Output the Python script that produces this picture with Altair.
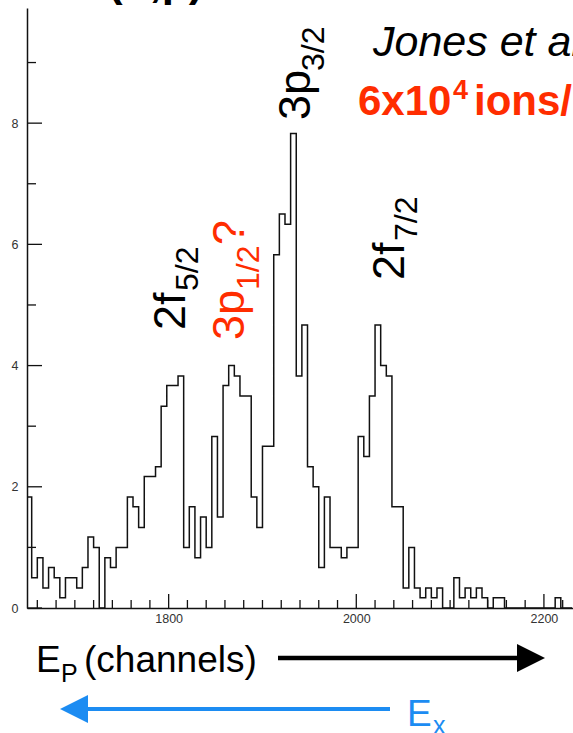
import altair as alt
import pandas as pd

# Histogram: counts per channel, 6-channel bins starting at channel 1648
BIN_START = 1648
BIN_WIDTH = 6
heights = [
    1.83, 0.50, 0.83, 0.33, 0.67, 0.50, 0.17, 0.50, 0.50, 0.33,
    0.67, 1.17, 1.00, 0.00, 0.83, 0.67, 1.00, 1.00, 1.83, 1.67,
    1.33, 2.17, 2.17, 2.33, 3.33, 3.67, 3.67, 3.83, 1.00, 1.67,
    0.83, 1.50, 1.00, 2.83, 1.50, 3.67, 4.00, 3.83, 3.50, 3.50,
    1.83, 1.33, 2.67, 2.67, 5.83, 6.50, 6.33, 7.83, 3.83, 4.67,
    2.33, 2.00, 0.67, 1.83, 1.00, 1.00, 0.83, 1.00, 1.00, 2.83,
    2.50, 3.50, 4.67, 4.00, 3.83, 1.67, 1.67, 0.33, 1.00, 0.33,
    0.17, 0.33, 0.17, 0.33, 0.00, 0.00, 0.50, 0.17, 0.33, 0.17,
    0.33, 0.17, 0.00, 0.17, 0.17, 0.00, 0.00, 0.00, 0.00, 0.00,
    0.00, 0.00, 0.00, 0.00, 0.17, 0.00, 0.00,
]

x_domain = [1649, 2231]
y_domain = [0, 9.9]
x_labels = [1800, 2000, 2200]
x_minor = [1660, 1680, 1700, 1720, 1740, 1760, 1780, 1820, 1840, 1860,
           1880, 1900, 1920, 1940, 1960, 1980, 2020, 2040, 2060, 2080,
           2100, 2120, 2140, 2160, 2180, 2220]
y_labels = [0, 2, 4, 6, 8]
y_minor = [1, 3, 5, 7, 9]

RED = "#ff2d00"
BLUE = "#1c8cf2"
FONT = "Liberation Sans"

PAD_L, PAD_T = 27, 8
W, H = 546, 600

edges = [BIN_START + BIN_WIDTH * i for i in range(len(heights) + 1)]
hist = pd.DataFrame({"ch": edges, "h": heights + [heights[-1]]})

xs = alt.Scale(domain=x_domain, nice=False, zero=False)
ys = alt.Scale(domain=y_domain, nice=False, zero=False)

x_axis = alt.Axis(values=x_labels, format="d", ticks=False, grid=False,
                  title=None, domainColor="#111", domainWidth=1.5,
                  labelFont=FONT, labelFontSize=12.5, labelColor="#333",
                  labelPadding=4)
y_axis = alt.Axis(values=y_labels, format="d", ticks=False, grid=False,
                  title=None, domainColor="#111", domainWidth=1.5,
                  labelFont=FONT, labelFontSize=12.5, labelColor="#333",
                  labelPadding=9)

line = alt.Chart(hist).mark_line(
    interpolate="step-after", color="#111", strokeWidth=1.5, clip=True
).encode(
    x=alt.X("ch:Q", scale=xs, axis=x_axis),
    y=alt.Y("h:Q", scale=ys, axis=y_axis),
)


def xticks(vals, length):
    return alt.Chart(pd.DataFrame({"ch": vals})).mark_rule(
        color="#111", strokeWidth=1.3
    ).encode(x=alt.X("ch:Q", scale=xs, axis=x_axis),
             y=alt.value(H), y2=alt.value(H - length))


def yticks(vals, length):
    return alt.Chart(pd.DataFrame({"h": vals})).mark_rule(
        color="#111", strokeWidth=1.3
    ).encode(y=alt.Y("h:Q", scale=ys, axis=y_axis),
             x=alt.value(0), x2=alt.value(length))


def label(text, px, py, size, color="black", angle=0, weight="normal",
          style="normal"):
    # px, py are page positions; convert to plot-area coordinates
    return alt.Chart(pd.DataFrame({"t": [text]})).mark_text(
        align="left", baseline="alphabetic", font=FONT, fontSize=size,
        color=color, angle=angle, fontWeight=weight, fontStyle=style,
    ).encode(text="t:N", x=alt.value(px - PAD_L), y=alt.value(py - PAD_T))


def arrow_line(x1, x2, py, color, width):
    return alt.Chart(pd.DataFrame({"a": [0]})).mark_rule(
        color=color, strokeWidth=width
    ).encode(x=alt.value(x1 - PAD_L), x2=alt.value(x2 - PAD_L),
             y=alt.value(py - PAD_T))


def arrow_head(px, py, color, shape, span):
    return alt.Chart(pd.DataFrame({"a": [0]})).mark_point(
        shape=shape, filled=True, color=color, opacity=1, size=span * span,
        strokeWidth=0
    ).encode(x=alt.value(px - PAD_L), y=alt.value(py - PAD_T))


RIGHT = "M-1,-1L1,0L-1,1Z"
LEFT = "M1,-1L-1,0L1,1Z"

layers = [
    line,
    xticks(x_labels, 14), xticks(x_minor, 8),
    yticks(y_labels, 15), yticks(y_minor, 9),
    label("(d,p)", 108, -4, 44, weight="bold"),
    label("Jones et al.", 373, 56, 43, style="italic"),
    label("6x10", 358, 115, 42, color=RED, weight="bold"),
    label("4", 453, 99, 27, color=RED, weight="bold"),
    label("ions/s", 474, 115, 42, color=RED, weight="bold"),
    # peak labels, rotated to read upwards
    label("3p", 310, 120, 45, angle=270),
    label("3/2", 324, 71, 32, angle=270),
    label("2f", 185, 330, 45, angle=270),
    label("5/2", 198, 291, 32, angle=270),
    label("3p", 244, 340, 45, color=RED, angle=270),
    label("1/2", 259, 290, 32, color=RED, angle=270),
    label("?", 244, 245, 45, color=RED, angle=270),
    label("2f", 404, 280, 45, angle=270),
    label("7/2", 417, 241, 32, angle=270),
    # energy direction arrows
    label("E", 36, 672, 37),
    label("P", 61, 682, 25),
    label("(channels)", 84, 672, 37),
    arrow_line(278, 520, 658, "black", 4.5),
    arrow_head(531, 658, "black", RIGHT, 28),
    arrow_line(88, 390, 709, BLUE, 4),
    arrow_head(74, 709, BLUE, LEFT, 28),
    label("E", 407, 726, 37, color=BLUE),
    label("x", 433, 734, 25, color=BLUE),
]

chart = alt.layer(*layers).properties(
    width=W, height=H,
    autosize=alt.AutoSizeParams(type="none"),
    padding={"left": PAD_L, "top": PAD_T, "right": 573 - PAD_L - W,
             "bottom": 733 - PAD_T - H},
    background="white",
).configure_view(stroke=None)

chart.save("out.html", embed_options={"renderer": "svg", "actions": False})
